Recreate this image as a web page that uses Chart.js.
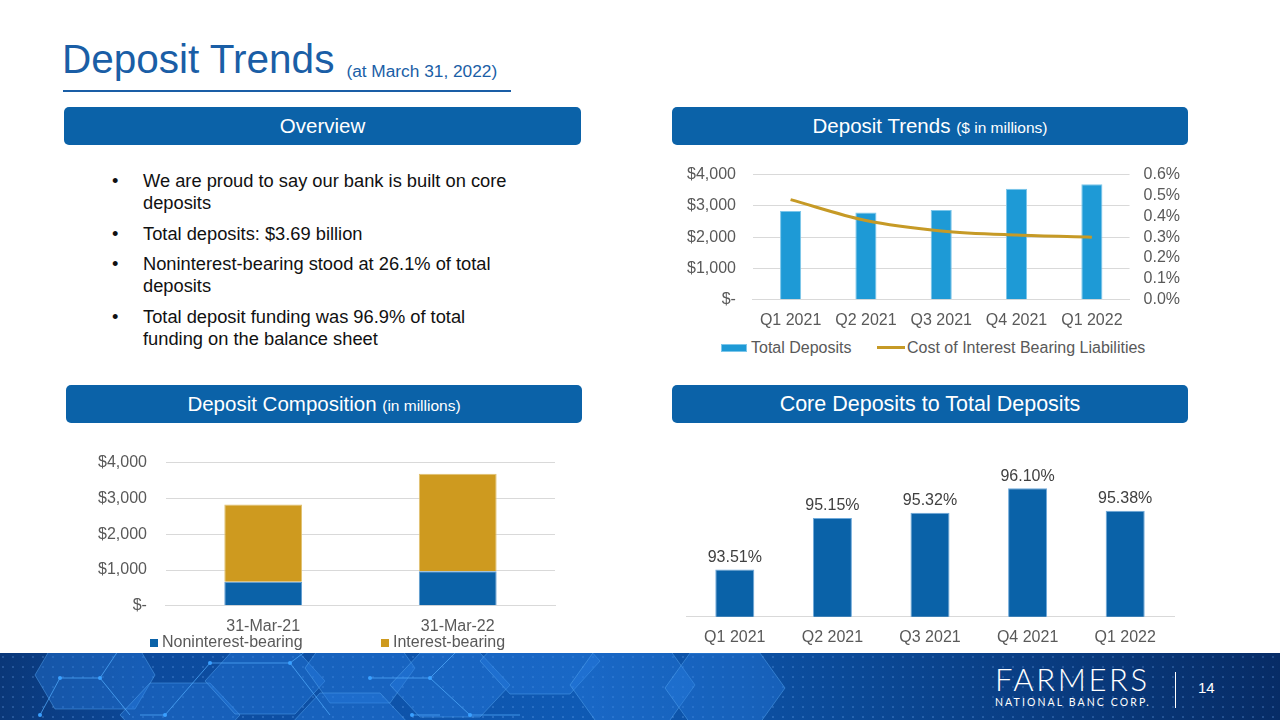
<!DOCTYPE html>
<html>
<head>
<meta charset="utf-8">
<script src="https://cdn.jsdelivr.net/npm/chart.js@4"></script>
<style>
  html, body { margin: 0; padding: 0; }
  body { width: 1280px; height: 720px; position: relative; overflow: hidden; background: #fff; font-family: "Liberation Sans", Arial, sans-serif; }
  .title { position: absolute; left: 62px; top: 36px; color: #1A5EA6; font-size: 40.5px; white-space: nowrap; }
  .title small { font-size: 17.3px; margin-left: 12px; position: relative; top: 4px; }
  .rule { position: absolute; left: 63px; top: 90px; width: 448px; height: 2px; background: #1A5EA6; }
  .hdr { position: absolute; height: 38px; background: #0B62A8; border-radius: 5px; color: #fff; font-size: 20.5px; line-height: 38px; text-align: center; }
  .hdr small { font-size: 15.5px; }
  ul.bul { position: absolute; left: 112px; top: 170px; width: 410px; margin: 0; padding: 0; list-style: none; font-size: 18.3px; line-height: 22px; color: #111; }
  ul.bul li { position: relative; padding-left: 31px; margin-bottom: 8.5px; }
  ul.bul li:before { content: "\2022"; position: absolute; left: 0; }
  .box { position: absolute; }
  .lg { position: absolute; font-size: 16px; color: #595959; white-space: nowrap; line-height: 18px; }
  .sw { position: absolute; }
  .footer { position: absolute; left: 0; top: 653px; width: 1280px; height: 67px; overflow: hidden; }
  .logo { position: absolute; left: 995px; top: 664px; color: #fff; font-family: Lato, "Liberation Sans", sans-serif; }
  .logo .big { font-size: 31px; letter-spacing: 2.6px; line-height: 30px; font-weight: 300; }
  .logo .sm { font-size: 10.5px; letter-spacing: 2.1px; margin-top: 2px; }
  .vline { position: absolute; left: 1175px; top: 672px; width: 1px; height: 36px; background: #fff; }
  .pg { position: absolute; left: 1198px; top: 679px; color: #fff; font-size: 15px; }
</style>
</head>
<body>
<div class="title">Deposit Trends<small>(at March 31, 2022)</small></div>
<div class="rule"></div>

<div class="hdr" style="left:64px;top:107px;width:517px;">Overview</div>
<div class="hdr" style="left:672px;top:107px;width:516px;">Deposit Trends <small>($ in millions)</small></div>
<div class="hdr" style="left:66px;top:385px;width:516px;">Deposit Composition <small>(in millions)</small></div>
<div class="hdr" style="left:672px;top:385px;width:516px;font-size:21.5px;">Core Deposits to Total Deposits</div>

<ul class="bul">
  <li>We are proud to say our bank is built on core deposits</li>
  <li>Total deposits: $3.69 billion</li>
  <li>Noninterest-bearing stood at 26.1% of total deposits</li>
  <li>Total deposit funding was 96.9% of total funding on the balance sheet</li>
</ul>

<div class="box" style="left:657px;top:148px;width:544px;height:185px;"><canvas id="trendChart"></canvas></div>
<div class="sw" style="left:721px;top:344px;width:26px;height:8px;background:#1E9AD6;border:1px solid #7CC6EA;box-sizing:border-box;"></div>
<div class="lg" style="left:751px;top:339px;">Total Deposits</div>
<div class="sw" style="left:877px;top:346px;width:28px;height:3px;background:#C69A26;"></div>
<div class="lg" style="left:907px;top:339px;">Cost of Interest Bearing Liabilities</div>

<div class="box" style="left:69px;top:434px;width:491px;height:205px;"><canvas id="compChart"></canvas></div>
<div class="sw" style="left:150px;top:639px;width:8px;height:8px;background:#0B62A8;"></div>
<div class="lg" style="left:162px;top:633px;">Noninterest-bearing</div>
<div class="sw" style="left:381px;top:639px;width:8px;height:8px;background:#CE9A1F;"></div>
<div class="lg" style="left:393px;top:633px;">Interest-bearing</div>

<div class="box" style="left:680px;top:460px;width:500px;height:190px;"><canvas id="coreChart"></canvas></div>

<div class="footer">
  <svg width="1280" height="67" style="position:absolute;left:0;top:0;">
    <defs>
      <linearGradient id="fg" x1="0" y1="0" x2="1" y2="0">
        <stop offset="0" stop-color="#0A3778"></stop>
        <stop offset="0.12" stop-color="#0C4A9C"></stop>
        <stop offset="0.45" stop-color="#0F5AB4"></stop>
        <stop offset="0.66" stop-color="#0B4A98"></stop>
        <stop offset="1" stop-color="#072C66"></stop>
      </linearGradient>
      <pattern id="dots" width="10" height="10" patternUnits="userSpaceOnUse">
        <circle cx="3" cy="4" r="0.9" fill="rgba(120,180,255,0.35)"></circle>
      </pattern>
    </defs>
    <rect width="1280" height="67" fill="url(#fg)"></rect>
    <rect width="1280" height="67" fill="url(#dots)"></rect>
    <g fill="rgba(40,125,225,0.40)" stroke="rgba(90,170,245,0.45)" stroke-width="1">
      <polygon points="55,-12 135,-12 155,22 135,56 55,56 35,22"></polygon>
      <polygon points="150,30 210,30 240,62 210,94 150,94 120,62"></polygon>
      <polygon points="235,-5 295,-5 325,28 295,61 235,61 205,28"></polygon>
      <polygon points="330,-20 390,-20 415,15 390,50 330,50 305,15"></polygon>
      <polygon points="420,0 480,0 510,32 480,64 420,64 390,32"></polygon>
      <polygon points="510,-25 570,-25 600,8 570,41 510,41 480,8"></polygon>
      <polygon points="600,-10 665,-10 695,32 665,74 600,74 570,32"></polygon>
      <polygon points="690,0 760,0 785,35 760,70 690,70 665,35"></polygon>
      <polygon points="320,40 380,40 410,72 380,104 320,104 290,72"></polygon>
    </g>
    <g stroke="rgba(80,170,250,0.75)" stroke-width="1" fill="none">
      <polyline points="40,62 60,25 100,25 120,-5"></polyline>
      <polyline points="100,25 130,62"></polyline>
      <polyline points="140,62 165,62 210,10 290,10 310,-5"></polyline>
      <polyline points="290,10 330,62"></polyline>
      <polyline points="370,25 430,25 460,-5"></polyline>
      <polyline points="430,25 470,62 520,62"></polyline>
      <polyline points="412,62 440,62"></polyline>
    </g>
    <g fill="#3AA0FF">
      <circle cx="60" cy="25" r="2"></circle>
      <circle cx="100" cy="25" r="2"></circle>
      <circle cx="40" cy="62" r="2"></circle>
      <circle cx="165" cy="62" r="2"></circle>
      <circle cx="210" cy="10" r="2"></circle>
      <circle cx="290" cy="10" r="2"></circle>
      <circle cx="370" cy="25" r="2"></circle>
      <circle cx="430" cy="25" r="2"></circle>
      <circle cx="470" cy="62" r="2"></circle>
      <circle cx="412" cy="62" r="2"></circle>
    </g>
  </svg>
</div>
<div class="logo"><div class="big">FARMERS</div><div class="sm">NATIONAL BANC CORP.</div></div>
<div class="vline"></div>
<div class="pg">14</div>

<script>
// Deposit Trends ($ in millions)
const quarters = ['Q1 2021', 'Q2 2021', 'Q3 2021', 'Q4 2021', 'Q1 2022'];
const totalDeposits = [2840, 2790, 2870, 3550, 3690];
const costOfIBL = [0.48, 0.38, 0.33, 0.31, 0.30];

// Deposit Composition (in millions)
const compDates = ['31-Mar-21', '31-Mar-22'];
const nonInterestBearing = [670, 963];
const interestBearing = [2160, 2727];

// Core Deposits to Total Deposits
const corePct = [93.51, 95.15, 95.32, 96.10, 95.38];

const gridCol = '#D9D9D9';
const txtCol = '#595959';
Chart.defaults.font.family = '"Liberation Sans", Arial, sans-serif';
Chart.defaults.font.size = 16;
Chart.defaults.color = txtCol;
Chart.defaults.animation = false;

const dollarTick = v => v === 0 ? '$-' : '$' + v.toLocaleString('en-US');

const trendCtx = document.getElementById('trendChart').getContext('2d');
const trendChart = new Chart(trendCtx, {
    data: {
        labels: quarters,
        datasets: [{
            type: 'line',
            label: 'Cost of Interest Bearing Liabilities',
            data: costOfIBL,
            borderColor: '#C69A26',
            backgroundColor: '#C69A26',
            borderWidth: 3,
            pointRadius: 0,
            cubicInterpolationMode: 'monotone',
            yAxisID: 'y1'
        }, {
            type: 'bar',
            label: 'Total Deposits',
            data: totalDeposits,
            backgroundColor: '#1E9AD6',
            borderColor: '#7CC6EA',
            borderWidth: 1,
            categoryPercentage: 1,
            barPercentage: 0.28,
            yAxisID: 'y'
        }]
    },
    options: {
        responsive: true,
        maintainAspectRatio: false,
        layout: { padding: { left: 13, right: 7, top: 0 } },
        plugins: {
            legend: { display: false },
            tooltip: { enabled: false }
        },
        scales: {
            x: {
                grid: { display: false },
                border: { color: gridCol },
                ticks: { color: txtCol }
            },
            y: {
                min: 0, max: 4000,
                ticks: { stepSize: 1000, callback: dollarTick, color: txtCol, padding: 17 },
                grid: { color: gridCol, drawTicks: false },
                border: { display: false }
            },
            y1: {
                position: 'right',
                min: 0, max: 0.6,
                ticks: { stepSize: 0.1, autoSkip: false, callback: v => v.toFixed(1) + '%', color: txtCol, padding: 14 },
                grid: { display: false, drawTicks: false },
                border: { display: false }
            }
        }
    }
});

const compCtx = document.getElementById('compChart').getContext('2d');
const compChart = new Chart(compCtx, {
    type: 'bar',
    data: {
        labels: compDates,
        datasets: [{
            label: 'Noninterest-bearing',
            data: nonInterestBearing,
            backgroundColor: '#0B62A8',
            borderColor: '#5E9BD0',
            borderWidth: 1,
            categoryPercentage: 1,
            barPercentage: 0.4
        }, {
            label: 'Interest-bearing',
            data: interestBearing,
            backgroundColor: '#CE9A1F',
            borderColor: '#E0C070',
            borderWidth: 1,
            categoryPercentage: 1,
            barPercentage: 0.4
        }]
    },
    options: {
        responsive: true,
        maintainAspectRatio: false,
        layout: { padding: { left: 10, right: 5 } },
        plugins: {
            legend: { display: false },
            tooltip: { enabled: false }
        },
        scales: {
            x: {
                stacked: true,
                grid: { display: false },
                border: { color: gridCol },
                ticks: { color: txtCol }
            },
            y: {
                stacked: true,
                min: 0, max: 4000,
                ticks: { stepSize: 1000, callback: dollarTick, color: txtCol, padding: 19 },
                grid: { color: gridCol, drawTicks: false },
                border: { display: false }
            }
        }
    }
});

const barLabels = {
    id: 'barLabels',
    afterDatasetsDraw(chart) {
        const ctx = chart.ctx;
        const meta = chart.getDatasetMeta(0);
        ctx.save();
        ctx.font = '16px "Liberation Sans", Arial, sans-serif';
        ctx.fillStyle = '#404040';
        ctx.textAlign = 'center';
        ctx.textBaseline = 'bottom';
        meta.data.forEach((bar, i) => {
            ctx.fillText(corePct[i].toFixed(2) + '%', bar.x, bar.y - 4);
        });
        ctx.restore();
    }
};

const coreCtx = document.getElementById('coreChart').getContext('2d');
const coreChart = new Chart(coreCtx, {
    type: 'bar',
    data: {
        labels: quarters,
        datasets: [{
            label: 'Core Deposits to Total Deposits',
            data: corePct,
            backgroundColor: '#0A62A8',
            borderColor: '#6FA9DA',
            borderWidth: 1,
            categoryPercentage: 1,
            barPercentage: 0.4
        }]
    },
    options: {
        responsive: true,
        maintainAspectRatio: false,
        layout: { padding: { left: 6, right: 6 } },
        plugins: {
            legend: { display: false },
            tooltip: { enabled: false }
        },
        scales: {
            x: {
                grid: { display: false },
                border: { color: gridCol },
                ticks: { color: txtCol, padding: 3 }
            },
            y: {
                display: false,
                min: 92, max: 97
            }
        }
    },
    plugins: [barLabels]
});
</script>
</body>
</html>
